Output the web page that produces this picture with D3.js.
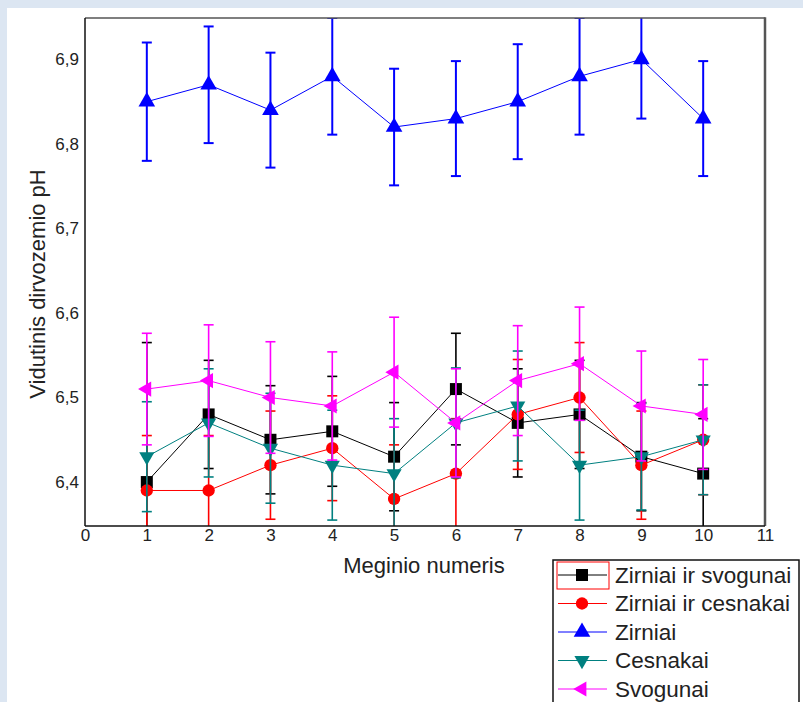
<!DOCTYPE html>
<html>
<head>
<meta charset="utf-8">
<script src="https://cdn.jsdelivr.net/npm/d3@7"></script>
<style>
  body { margin: 0; background: #dce6f2; }
  svg { display: block; font-family: "Liberation Sans", Arial, sans-serif; }
</style>
</head>
<body>
<script>
var width = 803, height = 702;
var plotLeft = 85, plotRight = 765, plotTop = 18, plotBottom = 526;

// sample numbers on the x axis
var samples = [1, 2, 3, 4, 5, 6, 7, 8, 9, 10];
var xTicks = [0, 1, 2, 3, 4, 5, 6, 7, 8, 9, 10, 11];
var yTicks = [6.4, 6.5, 6.6, 6.7, 6.8, 6.9];

var seriesNames = ['Zirniai ir svogunai', 'Zirniai ir cesnakai', 'Zirniai', 'Cesnakai', 'Svogunai'];
var seriesColors = ['#000000', '#ff0000', '#0000ff', '#008080', '#ff00ff'];
var seriesSymbols = ['square', 'circle', 'up', 'down', 'left'];

var meanZirSvog = [6.40, 6.48, 6.45, 6.46, 6.43, 6.51, 6.47, 6.48, 6.43, 6.41];
var errZirSvog  = [0.165, 0.064, 0.064, 0.065, 0.064, 0.066, 0.064, 0.064, 0.064, 0.065];
var meanZirCesn = [6.39, 6.39, 6.42, 6.44, 6.38, 6.41, 6.48, 6.50, 6.42, 6.45];
var errZirCesn  = [0.065, 0.065, 0.064, 0.062, 0.064, 0.065, 0.065, 0.065, 0.064, 0.065];
var meanZirniai = [6.85, 6.87, 6.84, 6.88, 6.82, 6.83, 6.85, 6.88, 6.90, 6.83];
var errZirniai  = [0.070, 0.069, 0.068, 0.069, 0.069, 0.068, 0.068, 0.069, 0.070, 0.068];
var meanCesnakai = [6.43, 6.47, 6.44, 6.42, 6.41, 6.47, 6.49, 6.42, 6.43, 6.45];
var errCesnakai  = [0.065, 0.064, 0.065, 0.065, 0.065, 0.065, 0.065, 0.065, 0.063, 0.065];
var meanSvogunai = [6.51, 6.52, 6.50, 6.49, 6.53, 6.47, 6.52, 6.54, 6.49, 6.48];
var errSvogunai  = [0.066, 0.066, 0.066, 0.064, 0.065, 0.064, 0.065, 0.067, 0.065, 0.065];

var means = [meanZirSvog, meanZirCesn, meanZirniai, meanCesnakai, meanSvogunai];
var errs = [errZirSvog, errZirCesn, errZirniai, errCesnakai, errSvogunai];

var svg = d3.select('body').append('svg')
    .attr('width', width)
    .attr('height', height);

svg.append('rect').attr('x', 7).attr('y', 8)
    .attr('width', width - 7).attr('height', height - 8)
    .attr('fill', '#fff');

var x = d3.scaleLinear().domain([0, 11]).range([plotLeft, plotRight]);
var y = d3.scaleLinear().domain([6.348, 6.949]).range([plotBottom, plotTop]);

svg.append('defs').append('clipPath').attr('id', 'plotClip')
  .append('rect').attr('x', plotLeft).attr('y', plotTop)
  .attr('width', plotRight - plotLeft).attr('height', plotBottom - plotTop);

function symbolPath(kind) {
  if (kind == 'square') return d3.symbol(d3.symbolSquare, 144)();
  if (kind == 'circle') return d3.symbol(d3.symbolCircle, 120)();
  if (kind == 'up') return d3.symbol(d3.symbolTriangle, 120)();
  return d3.symbol(d3.symbolTriangle, 100)();
}
function symbolRotate(kind) {
  if (kind == 'down') return 180;
  if (kind == 'left') return -90;
  return 0;
}

var plot = svg.append('g').attr('clip-path', 'url(#plotClip)');

means.forEach(function(vals, s) {
  var color = seriesColors[s];
  var g = plot.append('g');
  var pts = samples.map(function(n, i) { return {n: n, v: vals[i], e: errs[s][i]}; });

  g.append('path')
    .datum(pts)
    .attr('fill', 'none')
    .attr('stroke', color)
    .attr('stroke-width', 1)
    .attr('d', d3.line().x(d => x(d.n)).y(d => y(d.v)));

  var eb = g.selectAll('.eb').data(pts).enter().append('g').attr('class', 'eb')
    .attr('stroke', color).attr('stroke-width', s == 2 ? 2 : 1.6);
  eb.append('line')
    .attr('x1', d => x(d.n)).attr('x2', d => x(d.n))
    .attr('y1', d => y(d.v + d.e)).attr('y2', d => y(d.v - d.e));
  eb.append('line')
    .attr('x1', d => x(d.n) - 5).attr('x2', d => x(d.n) + 5)
    .attr('y1', d => y(d.v + d.e)).attr('y2', d => y(d.v + d.e));
  eb.append('line')
    .attr('x1', d => x(d.n) - 5).attr('x2', d => x(d.n) + 5)
    .attr('y1', d => y(d.v - d.e)).attr('y2', d => y(d.v - d.e));

  g.selectAll('.mk').data(pts).enter().append('path').attr('class', 'mk')
    .attr('d', symbolPath(seriesSymbols[s]))
    .attr('fill', color)
    .attr('transform', d => 'translate(' + x(d.n) + ',' + y(d.v) + ') rotate(' + symbolRotate(seriesSymbols[s]) + ')');
});

// frame
svg.append('line').attr('x1', plotLeft).attr('x2', plotRight).attr('y1', plotTop).attr('y2', plotTop)
  .attr('stroke', '#555').attr('stroke-width', 1.5);
svg.append('line').attr('x1', plotRight).attr('x2', plotRight).attr('y1', plotTop - 0.75).attr('y2', plotBottom)
  .attr('stroke', '#555').attr('stroke-width', 2.5);
svg.append('line').attr('x1', plotLeft).attr('x2', plotLeft).attr('y1', plotTop).attr('y2', plotBottom)
  .attr('stroke', '#111').attr('stroke-width', 1.5);
svg.append('line').attr('x1', plotLeft).attr('x2', plotRight).attr('y1', plotBottom).attr('y2', plotBottom)
  .attr('stroke', '#111').attr('stroke-width', 1.5);

var xAxis = d3.axisBottom(x).tickValues(xTicks).tickSize(0).tickPadding(3);
var yAxis = d3.axisLeft(y).tickValues(yTicks).tickSize(0).tickPadding(6)
  .tickFormat(d => d3.format('.1f')(d).replace('.', ','));

var gx = svg.append('g').attr('transform', 'translate(0,' + plotBottom + ')').call(xAxis);
var gy = svg.append('g').attr('transform', 'translate(' + plotLeft + ',0)').call(yAxis);
[gx, gy].forEach(function(a) {
  a.attr('font-size', 17).attr('font-family', '"Liberation Sans", Arial, sans-serif');
  a.select('.domain').remove();
  a.selectAll('text').attr('fill', '#222');
});

svg.append('text')
  .attr('x', 424).attr('y', 573)
  .attr('text-anchor', 'middle')
  .attr('font-size', 22).attr('fill', '#222')
  .text('Meginio numeris');

svg.append('text')
  .attr('transform', 'translate(45,284) rotate(-90)')
  .attr('text-anchor', 'middle')
  .attr('font-size', 22).attr('fill', '#222')
  .text('Vidutinis dirvozemio pH');

// legend
var legend = svg.append('g');
legend.append('rect').attr('x', 553).attr('y', 560)
  .attr('width', 246).attr('height', 160)
  .attr('fill', '#fff').attr('stroke', '#111').attr('stroke-width', 1.5);

seriesNames.forEach(function(name, s) {
  var ly = 575 + s * 28.5;
  legend.append('line').attr('x1', 558).attr('x2', 607).attr('y1', ly).attr('y2', ly)
    .attr('stroke', seriesColors[s]).attr('stroke-width', 1);
  legend.append('path')
    .attr('d', symbolPath(seriesSymbols[s]))
    .attr('fill', seriesColors[s])
    .attr('transform', 'translate(582,' + ly + ') rotate(' + symbolRotate(seriesSymbols[s]) + ')');
  legend.append('text').attr('x', 615).attr('y', ly)
    .attr('dy', '0.35em')
    .attr('font-size', 22.5).attr('fill', '#222')
    .text(name);
});
legend.append('rect').attr('x', 557).attr('y', 562).attr('width', 52).attr('height', 27)
  .attr('fill', 'none').attr('stroke', '#ff0000').attr('stroke-width', 1);
</script>
</body>
</html>
